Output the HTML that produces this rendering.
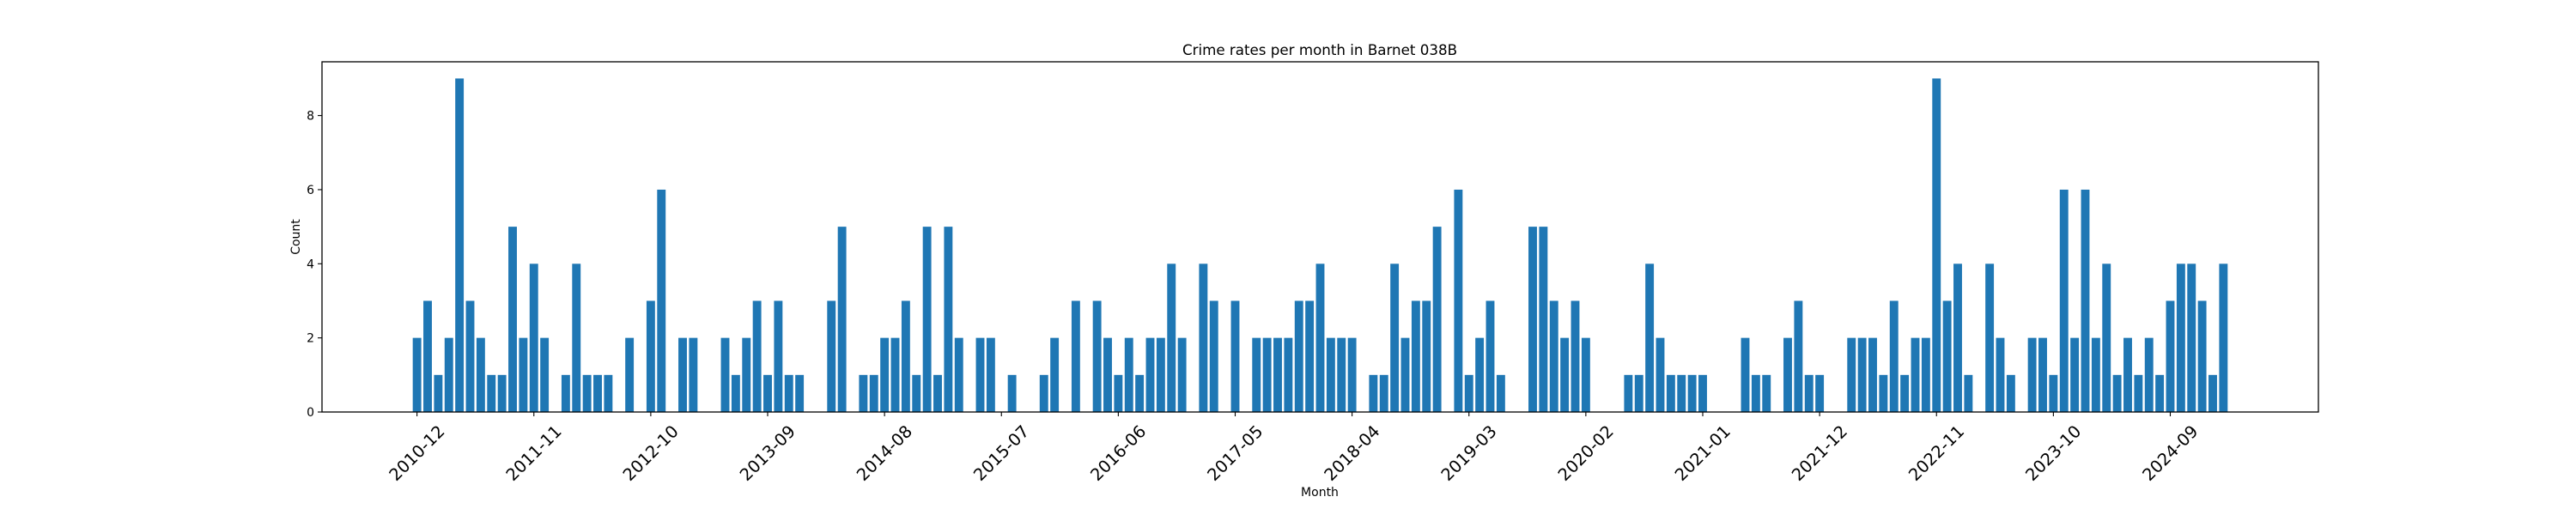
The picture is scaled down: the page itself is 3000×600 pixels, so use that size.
<!DOCTYPE html>
<html><head><meta charset="utf-8"><title>Crime rates per month in Barnet 038B</title>
<style>html,body{margin:0;padding:0;background:#fff;}svg{display:block;font-family:"DejaVu Sans","Liberation Sans",sans-serif;}</style>
</head><body>
<svg id="chart" width="3000" height="600" viewBox="0 0 3000 600" xmlns="http://www.w3.org/2000/svg">
<rect width="3000" height="600" fill="#fff"/>
<text x="1537" y="64" font-size="16.7" text-anchor="middle" fill="#000">Crime rates per month in Barnet 038B</text>
<text x="1537" y="578" font-size="14" text-anchor="middle" fill="#000">Month</text>
<text x="0" y="0" font-size="14" text-anchor="middle" fill="#000" transform="translate(349,276) rotate(-90)">Count</text>
<g id="bars"></g>
<g id="axes"></g>
</svg>
<script>
const startYear = 2010;
const startMonth = 12;
const counts = [2,3,1,2,9,3,2,1,1,5,2,4,2,0,1,4,1,1,1,0,2,0,3,6,0,2,2,0,0,
2,1,2,3,1,3,1,1,0,0,3,5,0,1,1,2,2,3,1,5,1,5,2,0,2,2,0,1,0,0,
1,2,0,3,0,3,2,1,2,1,2,2,4,2,0,4,3,0,3,0,2,2,2,2,3,3,4,2,2,
2,0,1,1,4,2,3,3,5,0,6,1,2,3,1,0,0,5,5,3,2,3,2,0,0,0,1,1,4,
2,1,1,1,1,0,0,0,2,1,1,0,2,3,1,1,0,0,2,2,2,1,3,1,2,2,9,3,4,
1,0,4,2,1,0,2,2,1,6,2,6,2,4,1,2,1,2,1,3,4,4,3,1,4];
const yTicks = [0,2,4,6,8];
const xTickEvery = 11;

const NS = "http://www.w3.org/2000/svg";
const L = 375, R = 2700, T = 72, B = 480;
const n = counts.length;
const xmin = -0.4 - 0.05*(n-1+0.8), xmax = (n-1)+0.4 + 0.05*(n-1+0.8);
const ymax = Math.max(...counts)*1.05;
function xs(i){ return L + (i - xmin)/(xmax - xmin)*(R-L); }
function ys(v){ return B - v/ymax*(B-T); }
function label(i){ let m = startMonth-1+i; let y = startYear + Math.floor(m/12); m = m%12+1; return y + "-" + (m<10?"0":"") + m; }
function mk(tag, attrs, parent){ const e = document.createElementNS(NS, tag); for (const k in attrs) e.setAttribute(k, attrs[k]); parent.appendChild(e); return e; }

const bars = document.getElementById("bars");
const bw = 0.8*(R-L)/(xmax-xmin);
counts.forEach((v,i)=>{
  if (v <= 0) return;
  const r = mk("rect", {x: xs(i)-bw/2, y: ys(v), width: bw, height: B-ys(v), fill: "#1f77b4"}, bars);
  
  
});

const axes = document.getElementById("axes");
const frame = mk("rect", {x: L, y: T, width: R-L, height: B-T, fill: "none", stroke: "#000", "stroke-width": 1.3}, axes);


yTicks.forEach(t=>{
  const y = ys(t);
  const tk = mk("line", {x1: L-5, x2: L, y1: y, y2: y, stroke: "#000", "stroke-width": 1.1}, axes);
  
  
  const tx = mk("text", {x: L-9, y: y+5, "font-size": 14, "text-anchor": "end", fill: "#000"}, axes);
  tx.textContent = t;
  
  
});
for (let i = 0; i < n; i += xTickEvery) {
  const x = xs(i);
  const tk = mk("line", {x1: x, x2: x, y1: B, y2: B+5, stroke: "#000", "stroke-width": 1.1}, axes);
  
  
  const tx = mk("text", {x: 0, y: 0, "font-size": 19.5, "text-anchor": "middle", "dominant-baseline": "central", fill: "#000", transform: "translate(" + x + ",528) rotate(-45)"}, axes);
  tx.textContent = label(i);
  
  
}
</script>
</body></html>
